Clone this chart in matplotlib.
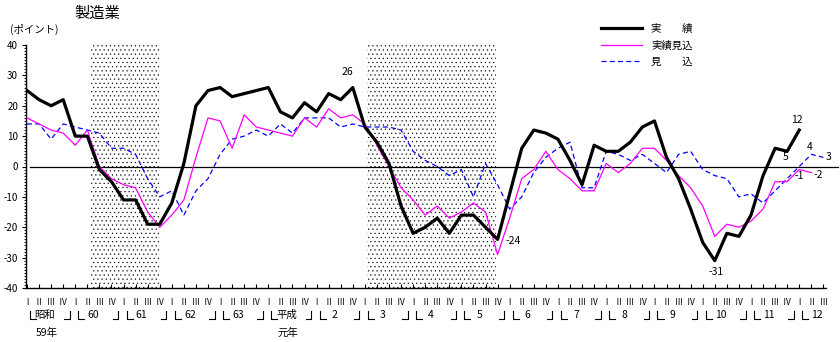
import matplotlib.pyplot as plt
import numpy as np

plt.rcParams['font.family'] = ['Noto Sans CJK JP', 'DejaVu Sans']
plt.rcParams['hatch.linewidth'] = 0.35
plt.rcParams['axes.unicode_minus'] = False

# quarter labels and fiscal-year labels (昭和59年 I ... 平成12年 III)
quarter_names = ["Ⅰ", "Ⅱ", "Ⅲ", "Ⅳ"]
year_labels = ["昭和", "60", "61", "62", "63", "平成",
               "2", "3", "4", "5", "6", "7", "8", "9", "10", "11", "12"]
era_notes = {"昭和": "59年", "平成": "元年"}

# 実績
jisseki = [25, 22, 20, 22, 10, 10, -1, -5, -11, -11, -19, -19, -12, 1,
           20, 25, 26, 23, 24, 25, 26, 18, 16, 21, 18, 24, 22, 26,
           13, 8, 1, -13, -22, -20, -17, -22, -16, -16, -20, -24,
           -9, 6, 12, 11, 9, 2, -6, 7, 5, 5, 8, 13, 15, 3,
           -4, -14, -25, -31, -22, -23, -16, -3, 6, 5, 12]
# 実績見込
jisseki_mikomi = [16, 14, 12, 11, 7, 12, 0, -4, -6, -7, -15, -20, -16, -11,
                  3, 16, 15, 6, 17, 13, 12, 11, 10, 16, 13, 19, 16, 17,
                  14, 7, 0, -7, -11, -16, -13, -17, -15, -12, -15, -29,
                  -17, -4, -1, 5, -1, -4, -8, -8, 1, -2, 1, 6, 6, 2,
                  -3, -7, -13, -23, -19, -20, -18, -14, -5, -5, -1, -2]
# 見込
mikomi = [14, 14, 9, 14, 13, 12, 11, 6, 6, 4, -4, -10, -8, -16,
          -8, -4, 4, 9, 10, 12, 10, 14, 11, 16, 16, 16, 13, 14,
          13, 13, 13, 12, 5, 2, 0, -3, -1, -10, 1, -6,
          -14, -10, -2, 3, 6, 8, -7, -7, 5, 4, 2, 4, 1, -2,
          4, 5, -1, -3, -4, -10, -9, -12, -8, -4, 0, 4, 3]

# 景気後退期 (quarter index, start / end)
recessions = [(5.3, 11.0), (28.2, 38.9)]

n = len(mikomi)
x = np.arange(n)

fig = plt.figure(figsize=(8.4, 3.42), dpi=100)
ax = fig.add_axes([26.4 / 840, 1 - 288 / 342, 800 / 840, 243 / 342])

for a, b in recessions:
    ax.axvspan(a, b, facecolor="none", edgecolor="black", hatch="....",
               linewidth=0, zorder=0)

ax.axhline(0, xmin=0.005, xmax=1.015, color="black", lw=0.9, clip_on=False, zorder=1)

ax.plot(x[:len(jisseki)], jisseki, color="black", lw=2.3, label="実　　績", zorder=4)
ax.plot(x[:len(jisseki_mikomi)], jisseki_mikomi, color="#FF00FF", lw=0.9,
        label="実績見込", zorder=3)
ax.plot(x, mikomi, color="#0000FF", lw=0.9, dashes=(4, 2.6), label="見　　込", zorder=2)

ax.set_xlim(-0.05, 66.25)
ax.set_ylim(-40, 40)
ax.spines[["top", "right"]].set_visible(False)
ax.spines["left"].set_linewidth(1.0)
ax.spines["bottom"].set_linewidth(1.0)

ax.set_yticks(np.arange(-40, 41, 10))
ax.set_yticks(np.arange(-40, 41, 1), minor=True)
ax.tick_params(axis="y", which="major", direction="out", length=3, width=0.8,
               labelsize=7, pad=3)
ax.tick_params(axis="y", which="minor", direction="out", length=1.5, width=0.6)

ax.set_xticks(x)
ax.set_xticklabels([quarter_names[i % 4] for i in x])
ax.tick_params(axis="x", direction="in", length=3, width=0.8, labelsize=6, pad=7)

# year brackets under the quarter labels
tr = ax.get_xaxis_transform()
y_top, y_bot, y_lab = -0.095, -0.126, -0.111
for k, label in enumerate(year_labels):
    start = 4 * k
    ax.plot([start + 0.25, start + 0.25, start + 0.75], [y_top, y_bot, y_bot],
            transform=tr, color="black", lw=0.8, clip_on=False)
    ax.text(start + 1.5, y_lab, label, transform=tr, ha="center", va="center",
            fontsize=7.5)
    if start + 3 < n:
        ax.plot([start + 3.1, start + 3.55, start + 3.55], [y_bot, y_bot, y_top],
                transform=tr, color="black", lw=0.8, clip_on=False)
    if label in era_notes:
        ax.text(start + 1.65, -0.185, era_notes[label], transform=tr,
                ha="center", va="center", fontsize=7.5)

# value labels
def note(series, i, dx, dy):
    ax.annotate(str(series[i]), (i, series[i]), xytext=(dx, dy),
                textcoords="offset points", ha="center", va="center", fontsize=7.5)

note(jisseki, 27, -4, 11)
note(jisseki, 39, 11, -1)
note(jisseki, 57, 1, -8)
note(jisseki, 64, -1.5, 7)
note(jisseki, 63, -1, -4)
note(mikomi, 65, -1, 5)
note(mikomi, 66, 4, 0.5)
note(jisseki_mikomi, 64, 0, -5)
note(jisseki_mikomi, 65, 5, -1.5)

fig.text(97 / 840, 1 - 13 / 342, "製造業", ha="center", va="center", fontsize=11)
fig.text(34 / 840, 1 - 29 / 342, "(ポイント)", ha="center", va="center", fontsize=7.5)

ax.legend(loc="upper left", bbox_to_anchor=(601 / 840, 1 - 24 / 342),
          bbox_transform=fig.transFigure, frameon=False, fontsize=7.5,
          handlelength=3.9, handletextpad=0.9, labelspacing=0.6,
          borderpad=0, borderaxespad=0)

fig.savefig("out.png", dpi=100)
